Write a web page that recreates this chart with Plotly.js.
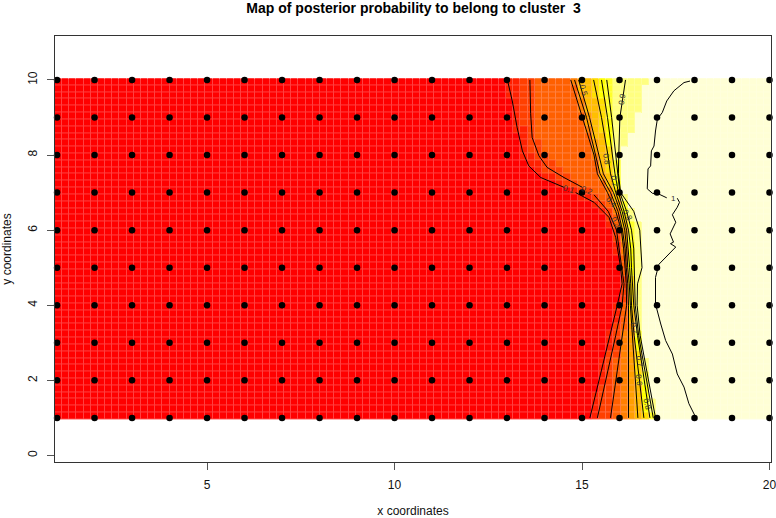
<!DOCTYPE html>
<html><head><meta charset="utf-8">
<script src="https://cdn.plot.ly/plotly-3.0.1.min.js"></script>
<style>html,body{margin:0;padding:0;background:#fff}</style></head>
<body><div id="chart" style="width:776px;height:518px"></div>
<script>
var pointX=[1,2,3,4,5,6,7,8,9,10,11,12,13,14,15,16,17,18,19,20];
var pointY=[1,2,3,4,5,6,7,8,9,10];
var bandColors=['#FF0000','#FF2000','#FF4000','#FF6000','#FF8000','#FF9F00','#FFBF00','#FFDF00','#FFFF00','#FFFF2A','#FFFF80','#FFFFD5'];
var gridColors=['#FF4040','#FF5540','#FF6A40','#FF8040','#FF9640','#FFAA40','#FFC040','#FFD640','#FFFF40','#FFFF60','#FFFF98','#FFFFDC'];
// x position where each colour band ends, for each y row
var edgeY=[10,9,8,7.5,7,6.5,6,5.5,5,4.57,4,3.2,1];
var edge10=[12.98,13.30,13.71,14.72,14.82,14.91,15.25,15.45,15.59,15.82,16.72];
var edge9=[13.18,13.40,13.68,15.05,15.13,15.20,15.46,15.63,15.74,15.87,16.46];
var edge8=[13.39,13.65,13.98,15.33,15.37,15.45,15.65,15.77,15.86,15.93,16.03];
var edge75=[13.70,14.10,14.50,15.43,15.49,15.57,15.73,15.85,15.92,15.96,16.00];
var edge7=[14.70,15.00,15.25,15.71,15.77,15.84,15.89,15.95,15.99,16.02,16.06];
var edge65=[15.50,15.63,15.80,15.92,15.97,16.02,16.06,16.10,16.15,16.25,16.42];
var edge6=[15.78,15.89,15.98,16.06,16.09,16.14,16.18,16.22,16.28,16.40,16.60];
var edge55=[15.89,15.96,16.05,16.12,16.16,16.19,16.23,16.28,16.34,16.45,16.64];
var edge5=[16.00,16.05,16.10,16.15,16.19,16.22,16.26,16.31,16.36,16.47,16.66];
var edge457=[16.05,16.10,16.15,16.19,16.22,16.26,16.29,16.33,16.37,16.43,16.52];
var edge4=[15.90,16.03,16.13,16.21,16.25,16.29,16.31,16.36,16.40,16.44,16.52];
var edge32=[15.70,15.86,16.02,16.10,16.20,16.34,16.38,16.45,16.50,16.53,16.60];
var edge1=[15.18,15.36,15.74,15.96,16.15,16.45,16.60,16.72,16.85,16.92,16.98];
var edgeRows=[edge10,edge9,edge8,edge75,edge7,edge65,edge6,edge55,edge5,edge457,edge4,edge32,edge1];
// contour lines
var lineY=[10,9,8,7.5,7,6.5,6,5.5,5,4.57,4,3.2,1];
var c01x=[13.01,13.14,13.27,13.41,13.58,13.9,14.52,null,14.83,15.32,15.72,15.9,16.03,16.07,15.94,15.74,15.21];
var c01y=[10,9.44,8.73,8.11,7.71,7.40,7.14,null,7.0,6.74,6.34,5.8,5,4.57,4,3.2,1];
var c02x=[13.61,13.63,13.67,13.85,14.07,14.52,15.01,null,15.32,15.70,15.92,15.99,16.07,16.12,16.07,15.90,15.41];
var c02y=[10,9.1,8.47,7.98,7.67,7.4,7.14,null,6.94,6.5,6,5.5,5,4.57,4,3.2,1];
var c03x=[14.70,15.02,15.32,15.41,15.68,15.90,16.05,16.11,16.14,16.18,16.19,16.08,15.76];
var c04x=[14.80,15.12,15.36,15.48,15.76,15.96,16.08,16.15,16.18,16.22,16.24,16.24,16.24];
var c05x=[14.91,15.20,15.45,15.57,15.84,16.02,16.14,16.19,16.22,16.26,16.29,16.34,16.49];
var c06x=[15.31,15.52,15.69,15.76,15.90,16.07,16.19,16.24,16.27,16.30,16.32,16.39,16.65];
var c07x=[15.52,15.68,15.81,15.88,15.97,16.12,16.24,16.30,16.32,16.35,16.38,16.48,16.81];
var c08x=[15.66,15.79,15.90,15.95,16.01,16.19,16.32,16.38,16.40,16.40,16.42,16.51,16.90];
var c09x=[16.16,16.01,15.98,15.97,16.03,16.38,16.54,16.58,16.60,16.48,16.47,16.55,16.96];
var c10x=[17.88,17.72,17.45,17.26,17.14,17.01,16.96,16.92,16.85,16.83,16.76,16.74,16.88,17.05,17.26,null,17.54,17.60,17.54,17.41,17.50,17.35,17.44,17.36,17.50,17.05,16.96,16.96,17.10,17.23,17.41,17.54,17.72,17.85,18.03];
var c10y=[9.97,9.93,9.71,9.44,9.13,8.96,8.64,8.24,8.11,7.71,7.63,7.10,6.98,6.96,6.86,null,6.85,6.74,6.61,6.41,6.21,5.90,5.68,5.64,5.55,5.09,4.74,4.03,3.50,3.06,2.70,2.17,1.82,1.38,1.02];
var labelText=['0.1','0.2','0.5','0.9','0.8','0.7','0.4','0.3','0.8','0.7','0.7','0.6','0.8','1'];
var labelX=[14.65,15.14,15.03,16.06,15.66,15.84,15.78,15.90,16.21,16.37,16.52,16.52,16.72,17.44];
var labelY=[7.08,7.05,9.71,9.49,7.89,7.31,6.73,6.20,6.38,3.37,2.49,2.00,1.37,6.85];
var labelAngle=[18,25,75,-80,80,85,50,60,60,85,80,85,75,0];
var xTicks=[5,10,15,20], yTicks=[0,2,4,6,8,10];

var xRange=[0.945,20.04], yRange=[-0.175,11.17];
function steps(cols){var s=[];cols.forEach(function(c,i){s.push([i/cols.length,c]);s.push([(i+1)/cols.length,c]);});return s;}
var nx=100,ny=50,xs=[],ys=[],z=[];
for(var i=0;i<nx;i++)xs.push(0.945+(i+0.5)*(19.095/nx));
for(var j=0;j<ny;j++)ys.push(0.96+(j+0.5)*(9.08/ny));
function edgesAt(y){
  if(y>=edgeY[0])return edgeRows[0];
  for(var r=0;r<edgeY.length-1;r++){
    if(y<=edgeY[r]&&y>=edgeY[r+1]){
      var t=(edgeY[r]-y)/(edgeY[r]-edgeY[r+1]);
      return edgeRows[r].map(function(v,k){return v+t*(edgeRows[r+1][k]-v);});
    }
  }
  return edgeRows[edgeRows.length-1];
}
ys.forEach(function(y){
  var e=edgesAt(y);
  z.push(xs.map(function(x){var b=0;while(b<e.length&&x>e[b])b++;return b+0.5;}));
});
var dotsX=[],dotsY=[];
pointY.forEach(function(y){pointX.forEach(function(x){dotsX.push(x);dotsY.push(y);});});
function line(x,y){return {type:'scatter',mode:'lines',x:x,y:y,connectgaps:false,hoverinfo:'skip',line:{color:'#000',width:1},showlegend:false};}
var traces=[
 {type:'heatmap',x:xs,y:ys,z:z,zmin:0,zmax:12,colorscale:steps(gridColors),showscale:false,hoverinfo:'skip'},
 {type:'heatmap',x:xs,y:ys,z:z,zmin:0,zmax:12,colorscale:steps(bandColors),showscale:false,xgap:1,ygap:1,hoverinfo:'skip'},
 line(c01x,c01y),line(c02x,c02y),line(c03x,lineY),line(c04x,lineY),line(c05x,lineY),
 line(c06x,lineY),line(c07x,lineY),line(c08x,lineY),line(c09x,lineY),line(c10x,c10y),
 {type:'scatter',mode:'markers',x:dotsX,y:dotsY,marker:{color:'#000',size:6.5},hoverinfo:'skip',showlegend:false,cliponaxis:false}
];
var font='"Liberation Sans",Arial,sans-serif';
var annotations=labelText.map(function(t,i){return {x:labelX[i],y:labelY[i],xref:'x',yref:'y',text:t,showarrow:false,textangle:labelAngle[i],font:{family:font,size:8,color:'#333'}};});
var axis={showgrid:false,zeroline:false,showline:true,mirror:true,linecolor:'#333',linewidth:1,ticks:'outside',ticklen:7,tickcolor:'#555',tickfont:{family:font,size:12,color:'#111'}};
var layout={
 width:776,height:518,autosize:false,paper_bgcolor:'#fff',plot_bgcolor:'#fff',showlegend:false,
 margin:{l:55,r:4.5,t:36,b:56,pad:0},
 title:{text:'<b>Map of posterior probability to belong to cluster  3</b>',font:{family:font,size:14,color:'#000'},x:0.533,xanchor:'center',y:0.9846,yanchor:'middle'},
 xaxis:Object.assign({},axis,{range:xRange,tickvals:xTicks,ticktext:xTicks.map(String),ticklabeloverflow:'allow',ticklabelstandoff:5,title:{text:'x coordinates',font:{family:font,size:12,color:'#111'},standoff:18}}),
 yaxis:Object.assign({},axis,{range:yRange,tickvals:yTicks,ticktext:yTicks.map(String),tickangle:-90,ticklabelstandoff:5,title:{text:'y coordinates',font:{family:font,size:12,color:'#111'},standoff:13}}),
 annotations:annotations
};
Plotly.newPlot('chart',traces,layout,{displayModeBar:false,responsive:false});
</script></body></html>
